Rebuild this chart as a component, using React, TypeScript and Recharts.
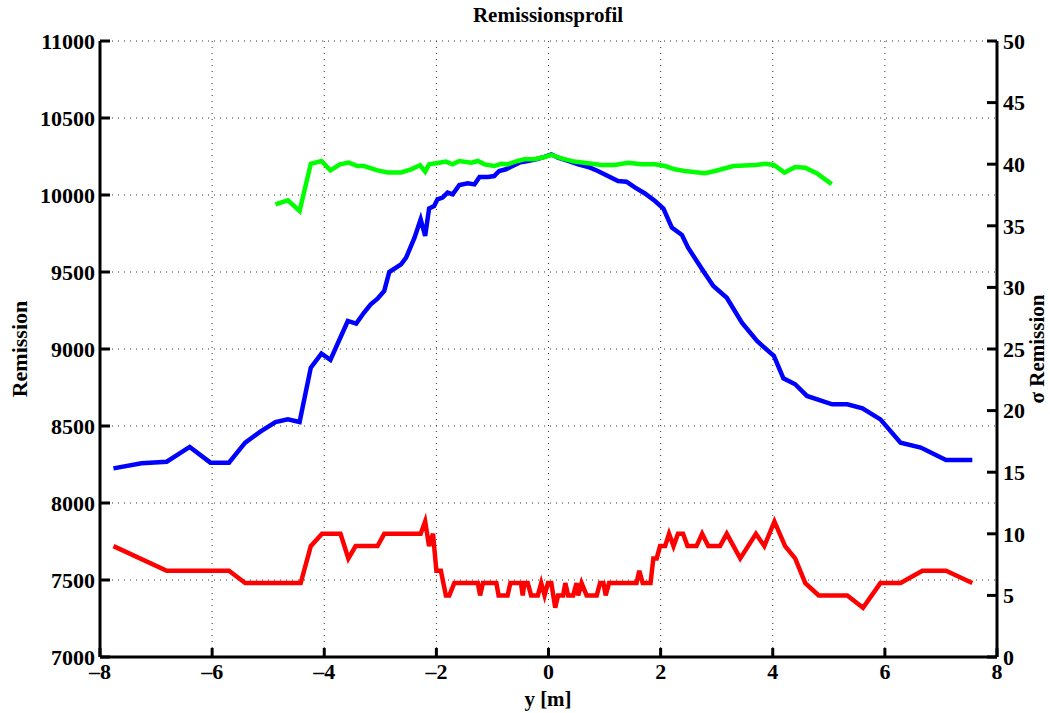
import { LineChart, Line, XAxis, YAxis, CartesianGrid } from 'recharts';

// Remission (left axis)
const blueX = [-7.76, -7.26, -6.81, -6.4, -6.03, -5.7, -5.41, -5.14, -4.87, -4.65, -4.44, -4.24, -4.05, -3.89, -3.74, -3.58, -3.43, -3.29, -3.17, -3.05, -2.93, -2.84, -2.63, -2.54, -2.39, -2.28, -2.2, -2.13, -2.04, -1.98, -1.89, -1.8, -1.71, -1.59, -1.44, -1.32, -1.23, -1.08, -0.97, -0.88, -0.76, -0.64, -0.52, -0.37, -0.22, -0.07, 0.05, 0.17, 0.35, 0.53, 0.71, 0.88, 1.06, 1.24, 1.39, 1.54, 1.72, 1.9, 2.05, 2.2, 2.38, 2.49, 2.76, 2.94, 3.18, 3.45, 3.72, 4.02, 4.19, 4.4, 4.61, 5.06, 5.33, 5.6, 5.92, 6.28, 6.64, 7.09, 7.56];
const blueY = [8225, 8258, 8268, 8364, 8262, 8262, 8392, 8463, 8526, 8543, 8526, 8879, 8970, 8929, 9052, 9182, 9165, 9237, 9290, 9327, 9377, 9500, 9550, 9593, 9723, 9842, 9734, 9913, 9929, 9972, 9983, 10015, 10004, 10065, 10076, 10069, 10117, 10117, 10123, 10156, 10167, 10188, 10210, 10221, 10232, 10247, 10264, 10242, 10221, 10199, 10182, 10156, 10123, 10091, 10086, 10049, 10010, 9961, 9912, 9788, 9740, 9658, 9506, 9409, 9333, 9171, 9052, 8955, 8810, 8771, 8695, 8641, 8641, 8615, 8543, 8392, 8360, 8279, 8279];

// second profile (left axis)
const greenX = [-4.87, -4.65, -4.44, -4.24, -4.05, -3.89, -3.72, -3.56, -3.41, -3.29, -3.05, -2.87, -2.63, -2.45, -2.29, -2.2, -2.13, -1.95, -1.83, -1.71, -1.59, -1.38, -1.26, -1.14, -0.97, -0.84, -0.73, -0.55, -0.43, -0.25, -0.07, 0.05, 0.23, 0.46, 0.71, 0.94, 1.18, 1.42, 1.66, 1.9, 2.08, 2.25, 2.43, 2.79, 2.97, 3.3, 3.69, 3.87, 4.02, 4.21, 4.4, 4.58, 4.79, 5.05];
const greenY = [9939, 9965, 9896, 10203, 10221, 10160, 10199, 10210, 10188, 10188, 10160, 10146, 10146, 10167, 10193, 10152, 10199, 10210, 10217, 10199, 10221, 10210, 10221, 10199, 10188, 10203, 10199, 10221, 10232, 10232, 10247, 10260, 10238, 10217, 10206, 10195, 10195, 10210, 10199, 10199, 10188, 10167, 10156, 10141, 10156, 10188, 10195, 10203, 10195, 10146, 10182, 10177, 10140, 10071];

// sigma Remission (right axis)
const redX = [-7.76, -6.81, -5.7, -5.41, -4.42, -4.24, -4.04, -3.71, -3.57, -3.44, -3.05, -2.93, -2.28, -2.2, -2.13, -2.06, -2.0, -1.92, -1.83, -1.77, -1.68, -1.26, -1.22, -1.17, -0.93, -0.89, -0.73, -0.68, -0.49, -0.46, -0.43, -0.37, -0.31, -0.19, -0.13, -0.07, -0.01, 0.05, 0.12, 0.17, 0.26, 0.3, 0.35, 0.44, 0.5, 0.53, 0.59, 0.68, 0.86, 0.92, 0.98, 1.02, 1.08, 1.57, 1.62, 1.68, 1.82, 1.87, 1.93, 1.99, 2.08, 2.15, 2.23, 2.31, 2.4, 2.48, 2.64, 2.74, 2.85, 3.06, 3.18, 3.42, 3.7, 3.85, 4.03, 4.22, 4.4, 4.58, 4.82, 5.33, 5.61, 5.92, 6.28, 6.67, 7.09, 7.56];
const redY = [9, 7, 7, 6, 6, 9, 10, 10, 8, 9, 9, 10, 10, 11, 9, 10, 7, 7, 5, 5, 6, 6, 5, 6, 6, 5, 5, 6, 6, 5, 6, 6, 5, 5, 6, 5, 6, 6, 4, 5, 5, 6, 5, 5, 6, 5, 6, 5, 5, 6, 6, 5, 6, 6, 7, 6, 6, 8, 8, 9, 9, 10, 9, 10, 10, 9, 9, 10, 9, 9, 10, 8, 10, 9, 11, 9, 8, 6, 5, 5, 4, 6, 6, 7, 7, 6];

const xTicks = [-8, -6, -4, -2, 0, 2, 4, 6, 8];
const leftTicks = [7000, 7500, 8000, 8500, 9000, 9500, 10000, 10500, 11000];
const rightTicks = [0, 5, 10, 15, 20, 25, 30, 35, 40, 45, 50];

const zip = (xs: number[], ys: number[]) => xs.map((x, i) => ({ x, v: ys[i] }));

const blueData = zip(blueX, blueY);
const greenData = zip(greenX, greenY);
const redData = zip(redX, redY);

const FONT = '"Liberation Serif", "Times New Roman", serif';
const TICK_SIZE = 22;
const fmt = (v: number) => (v < 0 ? '\u2013' + Math.abs(v) : String(v));

function BottomTick({ x, y, payload }: any) {
    return (
        <g>
            <line x1={x} y1={y} x2={x} y2={y - 9} stroke="#000" strokeWidth={3} />
            <text x={x} y={y + 22} textAnchor="middle" fontFamily={FONT} fontWeight="bold" fontSize={TICK_SIZE} fill="#000">
                {fmt(payload.value)}
            </text>
        </g>
    );
}

function LeftTick({ x, y, payload }: any) {
    return (
        <g>
            <line x1={x} y1={y} x2={x + 10} y2={y} stroke="#000" strokeWidth={3} />
            <text x={x - 5} y={y} dy="0.35em" textAnchor="end" fontFamily={FONT} fontWeight="bold" fontSize={TICK_SIZE} fill="#000">
                {payload.value}
            </text>
        </g>
    );
}

function RightTick({ x, y, payload }: any) {
    return (
        <g>
            <line x1={x} y1={y} x2={x - 10} y2={y} stroke="#000" strokeWidth={3} />
            <text x={x + 6} y={y} dy="0.35em" textAnchor="start" fontFamily={FONT} fontWeight="bold" fontSize={TICK_SIZE} fill="#000">
                {payload.value}
            </text>
        </g>
    );
}

export default function App() {
    return (
        <div style={{ position: 'absolute', left: 0, top: 0, width: 1050, height: 713, background: '#fff' }}>
            <LineChart width={1050} height={713} margin={{ top: 41, right: 0, bottom: 0, left: 0 }}>
                <CartesianGrid yAxisId="left" stroke="#333" strokeDasharray="1 5" horizontalValues={leftTicks} verticalValues={xTicks} />
                <XAxis
                    dataKey="x"
                    type="number"
                    domain={[-8, 8]}
                    ticks={xTicks}
                    height={56}
                    tickSize={0}
                    tickMargin={0}
                    axisLine={{ stroke: '#000', strokeWidth: 3 }}
                    tickLine={false}
                    tick={<BottomTick />}
                    allowDataOverflow
                />
                <YAxis
                    yAxisId="left"
                    orientation="left"
                    domain={[7000, 11000]}
                    ticks={leftTicks}
                    width={100}
                    tickSize={0}
                    tickMargin={0}
                    axisLine={{ stroke: '#000', strokeWidth: 3 }}
                    tickLine={false}
                    tick={<LeftTick />}
                    allowDataOverflow
                />
                <YAxis
                    yAxisId="right"
                    orientation="right"
                    domain={[0, 50]}
                    ticks={rightTicks}
                    width={53}
                    tickSize={0}
                    tickMargin={0}
                    axisLine={{ stroke: '#000', strokeWidth: 3 }}
                    tickLine={false}
                    tick={<RightTick />}
                    allowDataOverflow
                />
                <Line data={blueData} dataKey="v" yAxisId="left" type="linear" stroke="#0000ff" strokeWidth={4.5} dot={false} isAnimationActive={false} />
                <Line data={greenData} dataKey="v" yAxisId="left" type="linear" stroke="#00ff00" strokeWidth={4.5} dot={false} isAnimationActive={false} />
                <Line data={redData} dataKey="v" yAxisId="right" type="linear" stroke="#ff0000" strokeWidth={4.5} dot={false} isAnimationActive={false} />
            </LineChart>
            <svg width={1050} height={713} style={{ position: 'absolute', left: 0, top: 0, pointerEvents: 'none' }}>
                <text x={548} y={22} textAnchor="middle" fontFamily={FONT} fontWeight="bold" fontSize={21}>Remissionsprofil</text>
                <text x={548} y={706} textAnchor="middle" fontFamily={FONT} fontWeight="bold" fontSize={21}>y [m]</text>
                <text transform="translate(27,349) rotate(-90)" textAnchor="middle" fontFamily={FONT} fontWeight="bold" fontSize={22}>Remission</text>
                <text transform="translate(1044,349) rotate(-90)" textAnchor="middle" fontFamily={FONT} fontWeight="bold" fontSize={21}>σ Remission</text>
            </svg>
        </div>
    );
}
